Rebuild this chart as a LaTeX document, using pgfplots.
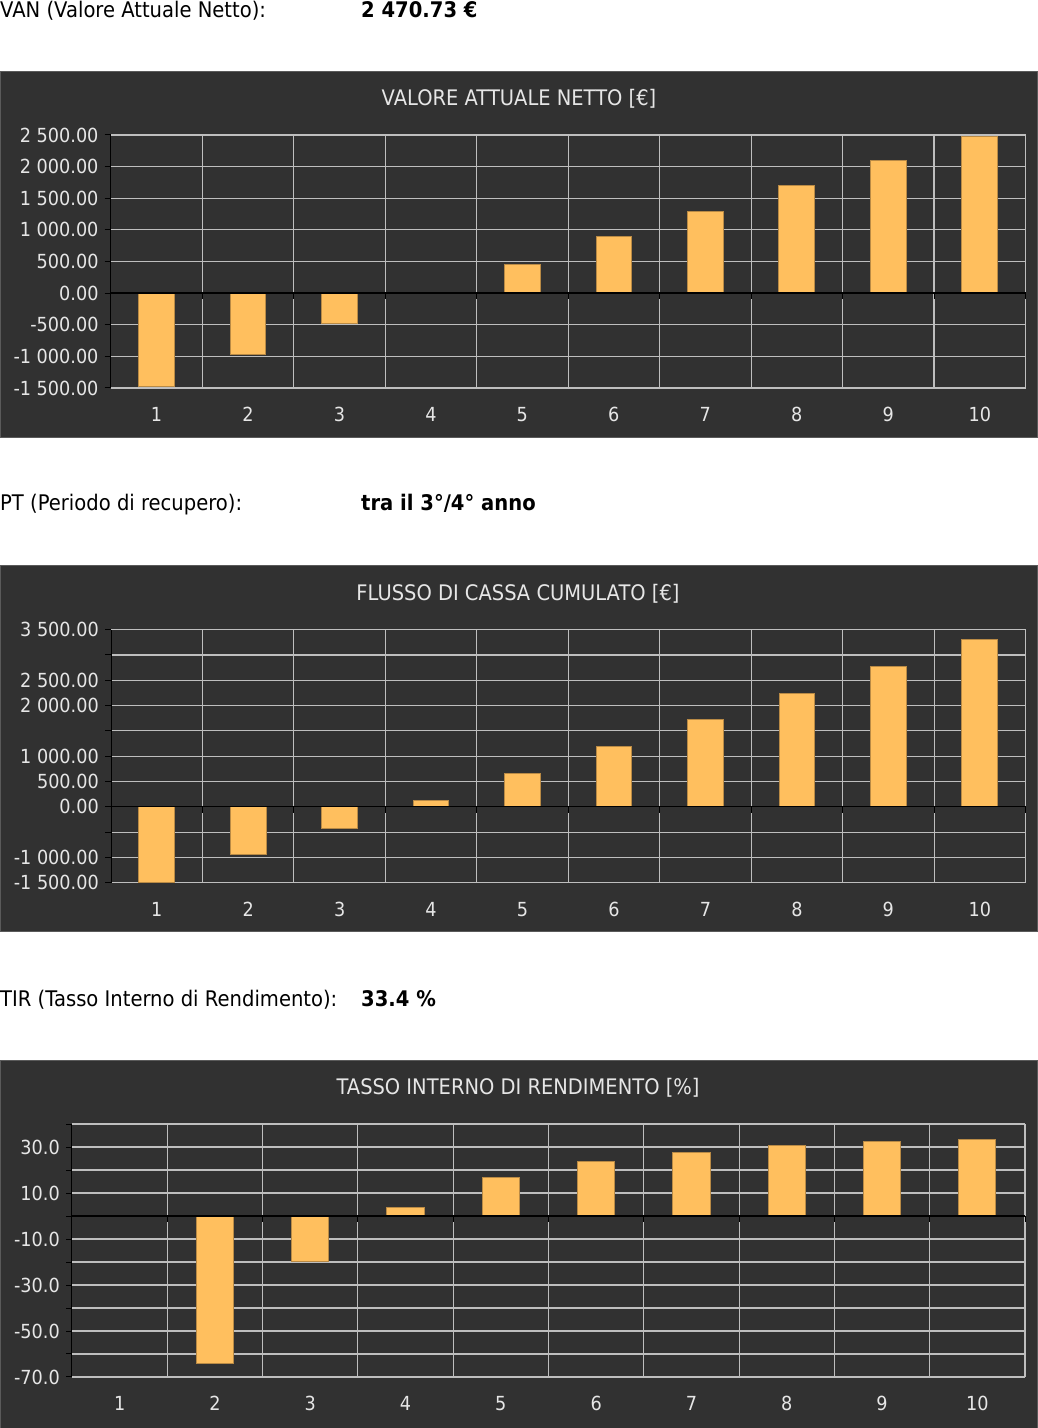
\documentclass[border=0pt]{standalone}
\usepackage{fontspec}
\setmainfont{DejaVu Sans}[FakeStretch=0.91]
\usepackage{pgfplots}
\pgfplotsset{compat=1.18}
\definecolor{panelbg}{HTML}{313131}
\definecolor{paneledge}{HTML}{5A5A5A}
\definecolor{gridgray}{HTML}{BEBEBE}
\definecolor{barfill}{HTML}{FFBF5E}
\definecolor{bardraw}{HTML}{B98A45}
\definecolor{labelcol}{HTML}{E6E6E6}
\pgfplotsset{
  panel/.style={
    scale only axis, height=253pt,
    xmin=0.5, xmax=10.5,
    ybar, bar width=0.39,
    axis line style={draw=none},
    xtick={1,...,10},
    xticklabels={1,2,3,4,5,6,7,8,9,10},
    x tick style={draw=none},
    extra x ticks={1.5,2.5,...,10.5},
    extra x tick labels={},
    extra x tick style={grid=major},
    ymajorgrids=true,
    grid style={gridgray, line width=1.1pt},
    ytick pos=left,
    tick align=outside,
    major tick length=6pt,
    y tick style={black, line width=1pt},
    /pgf/number format/assume math mode=true,
    tick label style={font=\fontsize{19.4}{23}\selectfont, text=labelcol},
    yticklabel style={inner sep=0pt, xshift=-6pt},
    xticklabel style={inner sep=0pt, yshift=-13pt},
    clip=false,
  },
  bars/.style={fill=barfill, draw=bardraw, line width=1pt},
}
\newcommand{\zeroline}{%
  \draw[black, line width=1.3pt] (axis cs:0.5,0) -- (axis cs:10.5,0);
  \draw[black, line width=1pt] (rel axis cs:0,0) -- (rel axis cs:0,1);
  \pgfplotsinvokeforeach{1.5,2.5,...,10.5}{\draw[black, line width=1pt] (axis cs:##1,0) -- ++(0pt,-6pt);}
}
\begin{document}
\begin{tikzpicture}
\path[use as bounding box] (0pt,0pt) rectangle (1038pt,1428pt);
% headers
\node[anchor=base west, inner sep=0pt, font=\fontsize{21.5}{26}\selectfont] at (0pt,1410.5pt) {VAN (Valore Attuale Netto):};
\node[anchor=base west, inner sep=0pt, font=\fontsize{21.5}{26}\selectfont\bfseries] at (361pt,1410.5pt) {2 470.73 €};
\node[anchor=base west, inner sep=0pt, font=\fontsize{21.5}{26}\selectfont] at (0pt,917pt) {PT (Periodo di recupero):};
\node[anchor=base west, inner sep=0pt, font=\fontsize{21.5}{26}\selectfont\bfseries] at (361pt,917pt) {tra il 3°/4° anno};
\node[anchor=base west, inner sep=0pt, font=\fontsize{21.5}{26}\selectfont] at (0pt,421pt) {TIR (Tasso Interno di Rendimento):};
\node[anchor=base west, inner sep=0pt, font=\fontsize{21.5}{26}\selectfont\bfseries] at (361pt,421pt) {33.4 \%};
% panels
\filldraw[fill=panelbg, draw=paneledge, line width=1pt] (0.5pt,990pt) rectangle (1037.5pt,1356pt);
\filldraw[fill=panelbg, draw=paneledge, line width=1pt] (0.5pt,496pt) rectangle (1037.5pt,862pt);
\filldraw[fill=panelbg, draw=paneledge, line width=1pt] (0.5pt,-1pt) rectangle (1037.5pt,367pt);
\node[anchor=base, inner sep=0pt, text=labelcol, font=\fontsize{21.4}{25}\selectfont] at (519pt,1322pt) {VALORE ATTUALE NETTO [€]};
\node[anchor=base, inner sep=0pt, text=labelcol, font=\fontsize{21.4}{25}\selectfont] at (518pt,827pt) {FLUSSO DI CASSA CUMULATO [€]};
\node[anchor=base, inner sep=0pt, text=labelcol, font=\fontsize{21.4}{25}\selectfont] at (518pt,333pt) {TASSO INTERNO DI RENDIMENTO [\%]};
% panel 1
\begin{axis}[panel, at={(110.7pt,1040pt)}, anchor=south west, width=914.8pt,
  ymin=-1500, ymax=2500, ytick={-1500,-1000,...,2500},
  yticklabels={-1 500.00,-1 000.00,-500.00,0.00,500.00,1 000.00,1 500.00,2 000.00,2 500.00}]
\addplot[bars] coordinates {(1,-1471) (2,-968) (3,-476) (5,448) (6,895) (7,1298) (8,1703) (9,2095) (10,2470.73)};
\zeroline
\end{axis}
% panel 2
\begin{axis}[panel, at={(111pt,545.3pt)}, anchor=south west, width=914.5pt,
  ymin=-1500, ymax=3500, ytick={-1500,-1000,...,3500},
  yticklabels={-1 500.00,-1 000.00,{},0.00,500.00,1 000.00,{},2 000.00,2 500.00,{},3 500.00}]
\addplot[bars] coordinates {(1,-1490) (2,-949) (3,-421) (4,126) (5,652) (6,1186) (7,1719) (8,2247) (9,2775) (10,3308)};
\zeroline
\end{axis}
% panel 3
\begin{axis}[panel, at={(72pt,51pt)}, anchor=south west, width=953pt,
  ymin=-70, ymax=40, ytick={-70,-60,...,40},
  yticklabels={-70.0,{},-50.0,{},-30.0,{},-10.0,{},10.0,{},30.0,{}}]
\addplot[bars] coordinates {(2,-64.2) (3,-19.6) (4,3.9) (5,16.7) (6,23.6) (7,27.8) (8,30.6) (9,32.2) (10,33.2)};
\zeroline
\end{axis}
\end{tikzpicture}
\end{document}
